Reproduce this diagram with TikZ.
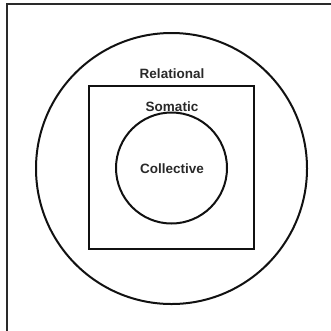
\documentclass[tikz,border=0pt]{standalone}
\usepackage{fontspec}
\setmainfont{Liberation Sans}
\usepackage{xcolor}
\usetikzlibrary{positioning}
\definecolor{ink}{HTML}{111111}
\definecolor{frame}{HTML}{2A2A2A}
\tikzset{
  ring/.style  = {circle, draw=ink, line width=2pt, inner sep=0pt},
  plate/.style = {rectangle, draw=ink, line width=2pt, inner sep=0pt},
  tag/.style   = {font=\fontsize{13.5}{15}\selectfont\bfseries, text=ink!90, inner sep=0pt},
}
\begin{document}
\begin{tikzpicture}[x=1pt, y=-1pt]
  \useasboundingbox (0,0) rectangle (331,330);
  \clip (0,0) rectangle (331,330);

  % cropped frame
  \draw[frame, line width=2pt] (7,345) -- (7,4) -- (345,4);

  % layers
  \node[ring, minimum size=271pt] (relational) at (171.5,168.5) {};
  \node[plate, minimum width=165pt, minimum height=163pt] (somatic) at (171.5,167.5) {};
  \node[ring, minimum size=111pt] (collective) at (171.5,168) {};

  % labels
  \node[tag] (relationalTag) at (172,74) {Relational};
  \node[tag] (somaticTag) at (172,107) {Somatic};
  \node[tag] (collectiveTag) at (172,169) {Collective};
\end{tikzpicture}
\end{document}
